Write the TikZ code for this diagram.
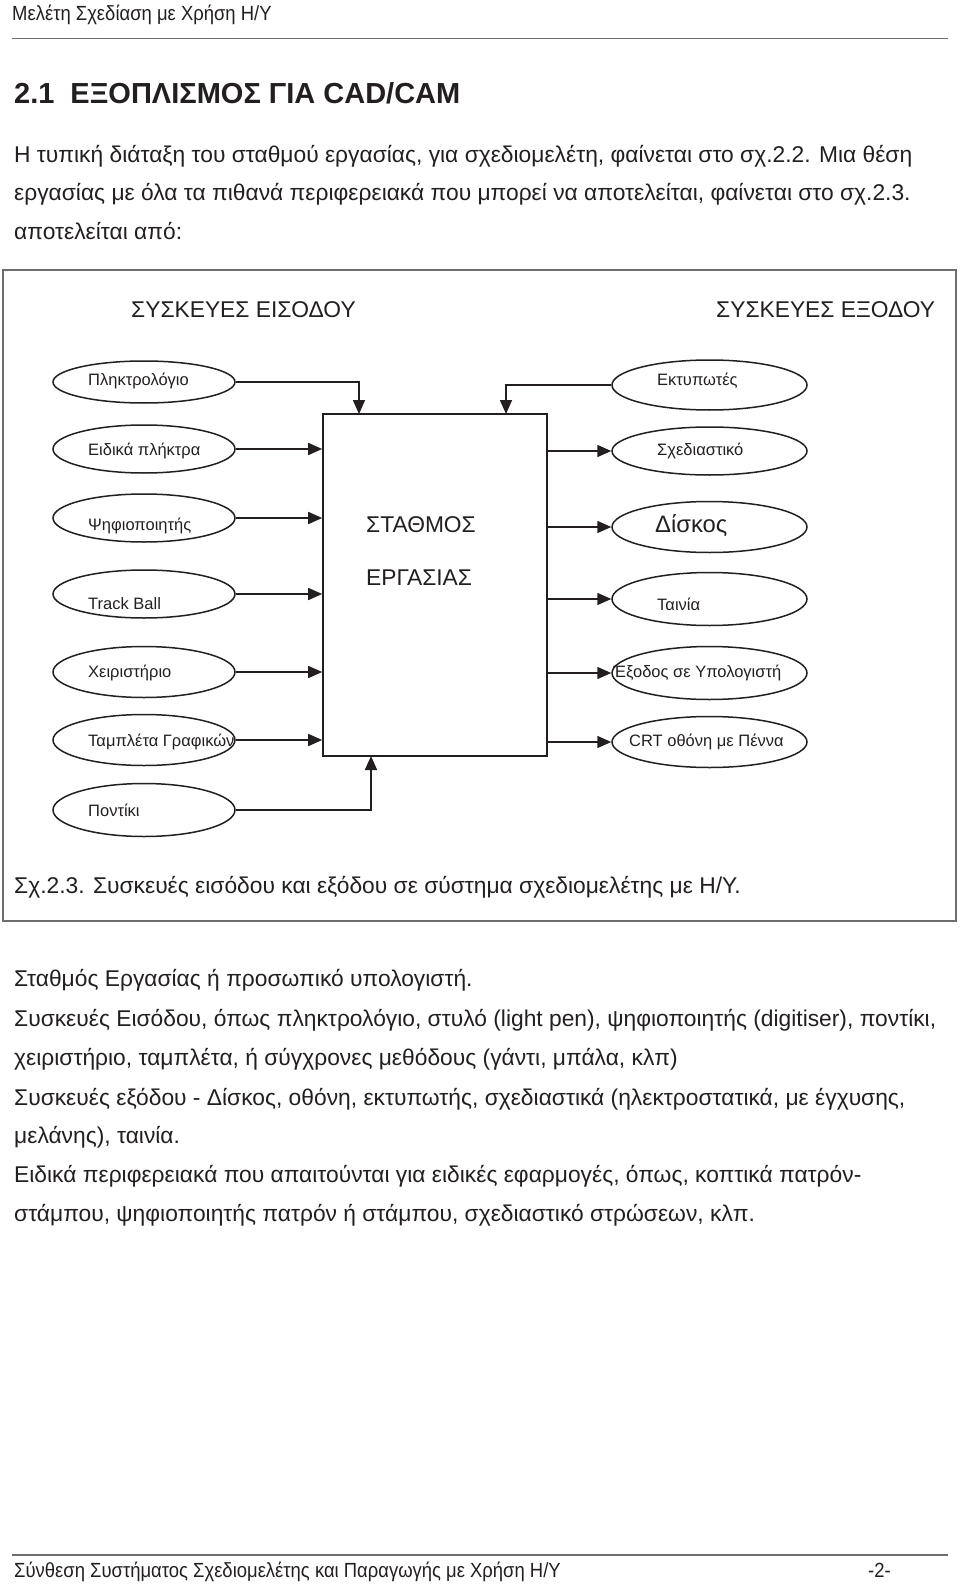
\documentclass[tikz,border=0pt]{standalone}
\usepackage{fontspec}
\setmainfont{Liberation Sans}
\newfontfamily\narrowfont[FakeStretch=0.9]{Liberation Sans}
\usetikzlibrary{arrows.meta,shapes.geometric}
\definecolor{ink}{HTML}{231F20}
\definecolor{rule}{HTML}{6E6E6E}
\begin{document}
\begin{tikzpicture}[x=1pt,y=-1pt,
  dev/.style={draw=ink, ellipse, line width=1.5pt, minimum width=182pt, minimum height=48pt, inner sep=0pt},
  lbl/.style={anchor=west, inner sep=0pt, text=ink, font=\fontsize{16.5}{19}\selectfont},
  txt/.style={anchor=base west, inner sep=0pt, text=ink, font=\fontsize{22.8}{26}\selectfont},
  hdr/.style={anchor=base west, inner sep=0pt, text=ink, font=\narrowfont\fontsize{20.5}{24}\selectfont},
  arr/.style={draw=ink, line width=1.6pt, -{Triangle[length=14pt,width=12pt]}}]
\useasboundingbox (0,0) rectangle (960,1586);
% page header
\node[hdr] (header) at (12,21) {Μελέτη Σχεδίαση με Χρήση Η/Υ};
\draw[rule, line width=1.6pt] (12,38.5) -- (948,38.5);
\node[anchor=base west, inner sep=0pt, text=ink, font=\bfseries\fontsize{29}{33}\selectfont] (title) at (14,104) {2.1\hspace{0.55em}ΕΞΟΠΛΙΣΜΟΣ ΓΙΑ CAD/CAM};
\node[txt] (p1) at (14,163) {Η τυπική διάταξη του σταθμού εργασίας, για σχεδιομελέτη, φαίνεται στο σχ.2.2. Μια θέση};
\node[txt] (p2) at (14,201) {εργασίας με όλα τα πιθανά περιφερειακά που μπορεί να αποτελείται, φαίνεται στο σχ.2.3.};
\node[txt] (p3) at (14,240) {αποτελείται από:};
% frame
\draw[rule, line width=2.4pt] (3,270) rectangle (956,921);
\node[txt] (hin) at (131,317) {ΣΥΣΚΕΥΕΣ ΕΙΣΟΔΟΥ};
\node[txt] (hout) at (716,317) {ΣΥΣΚΕΥΕΣ ΕΞΟΔΟΥ};
% central box
\node[draw=ink, line width=1.6pt, minimum width=224pt, minimum height=342pt, inner sep=0pt] (box) at (435,585) {};
\node[txt] (st1) at (366,532) {ΣΤΑΘΜΟΣ};
\node[txt] (st2) at (366,585) {ΕΡΓΑΣΙΑΣ};
% input ellipses
\node[dev, minimum height=42pt] (e1) at (144,382) {};
\node[dev] (e2) at (144,449) {};
\node[dev] (e3) at (144,518) {};
\node[dev] (e4) at (144,594) {};
\node[dev, minimum height=51pt] (e5) at (144,672) {};
\node[dev, minimum height=51pt] (e6) at (144,740) {};
\node[dev, minimum height=53pt] (e7) at (144,810) {};
\node[lbl] (l1) at (88,381) {Πληκτρολόγιο};
\node[lbl] (l2) at (88,451) {Ειδικά πλήκτρα};
\node[lbl] (l3) at (88,526) {Ψηφιοποιητής};
\node[lbl] (l4) at (88,604) {Track Ball};
\node[lbl] (l5) at (88,673) {Χειριστήριο};
\node[lbl] (l6) at (88,742) {Ταμπλέτα Γραφικών};
\node[lbl] (l7) at (88,810) {Ποντίκι};
% output ellipses
\node[dev, minimum width=195pt, minimum height=50pt] (r1) at (709.5,385) {};
\node[dev, minimum width=195pt, minimum height=48pt] (r2) at (709.5,451) {};
\node[dev, minimum width=195pt, minimum height=51pt] (r3) at (709.5,527) {};
\node[dev, minimum width=195pt, minimum height=53pt] (r4) at (709.5,599) {};
\node[dev, minimum width=195pt, minimum height=53pt] (r5) at (709.5,673) {};
\node[dev, minimum width=195pt, minimum height=51pt] (r6) at (709.5,742) {};
\node[lbl] (s1) at (657,381) {Εκτυπωτές};
\node[lbl] (s2) at (657,451) {Σχεδιαστικό};
\node[lbl, font=\fontsize{23.8}{27}\selectfont] (s3) at (655,526) {Δίσκος};
\node[lbl] (s4) at (657,604) {Ταινία};
\node[lbl] (s5) at (613,673) {Έξοδος σε Υπολογιστή};
\node[lbl] (s6) at (629,742) {CRT οθόνη με Πέννα};
% connectors
\coordinate (inL) at (359,414);
\coordinate (inR) at (506,414);
\coordinate (inB) at (371,756);
\draw[arr] (e1.east) -| (inL);
\draw[arr] (r1.west) -| (inR);
\draw[arr] (e7.east) -| (inB);
\foreach \n in {e2,e3,e4,e5,e6} \draw[arr] (\n.east) -- (\n.east -| box.west);
\foreach \n in {r2,r3,r4,r5,r6} \draw[arr] (\n.west -| box.east) -- (\n.west);
% caption
\node[txt] (cap) at (14,893) {Σχ.2.3. Συσκευές εισόδου και εξόδου σε σύστημα σχεδιομελέτης με Η/Υ.};
% body
\node[txt] (b1) at (14,986) {Σταθμός Εργασίας ή προσωπικό υπολογιστή.};
\node[txt] (b2) at (14,1026) {Συσκευές Εισόδου, όπως πληκτρολόγιο, στυλό (light pen), ψηφιοποιητής (digitiser), ποντίκι,};
\node[txt] (b3) at (14,1065) {χειριστήριο, ταμπλέτα, ή σύγχρονες μεθόδους (γάντι, μπάλα, κλπ)};
\node[txt] (b4) at (14,1105) {Συσκευές εξόδου - Δίσκος, οθόνη, εκτυπωτής, σχεδιαστικά (ηλεκτροστατικά, με έγχυσης,};
\node[txt] (b5) at (14,1143) {μελάνης), ταινία.};
\node[txt] (b6) at (14,1182) {Ειδικά περιφερειακά που απαιτούνται για ειδικές εφαρμογές, όπως, κοπτικά πατρόν-};
\node[txt] (b7) at (14,1221) {στάμπου, ψηφιοποιητής πατρόν ή στάμπου, σχεδιαστικό στρώσεων, κλπ.};
% footer
\draw[rule, line width=1.6pt] (12,1555) -- (948,1555);
\node[hdr] (footer) at (14,1577) {Σύνθεση Συστήματος Σχεδιομελέτης και Παραγωγής με Χρήση Η/Υ};
\node[hdr] (pg) at (868,1577) {-2-};
\end{tikzpicture}
\end{document}
